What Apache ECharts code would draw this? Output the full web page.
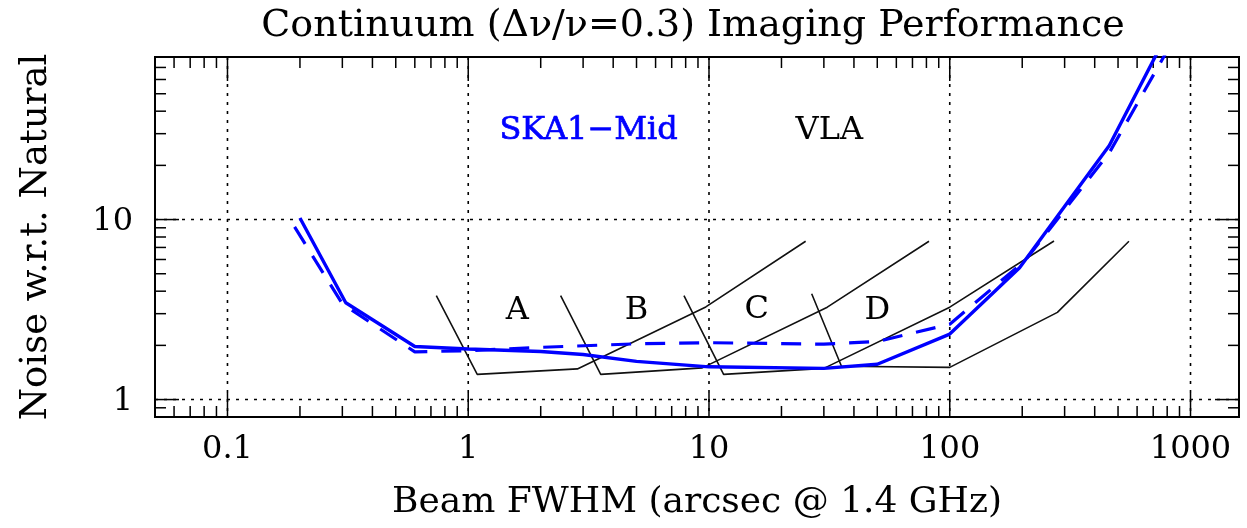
<!DOCTYPE html>
<html><head><meta charset="utf-8">
<script src="https://cdn.jsdelivr.net/npm/echarts@6/dist/echarts.min.js"></script>
<style>html,body{margin:0;padding:0;background:#fff}#chart{width:1247px;height:528px}</style>
</head><body><div id="chart"></div>
<script>
// ---------- texts ----------
const titleText = 'Continuum (Δν/ν=0.3) Imaging Performance';
const xAxisTitle = 'Beam FWHM (arcsec @ 1.4 GHz)';
const yAxisTitle = 'Noise w.r.t. Natural';

// ---------- axis ranges & ticks ----------
const xRange = [0.05, 1590];
const yRange = [0.8, 80];
const xMajorTicks = [0.1, 1, 10, 100, 1000];
const xTickLabels = ['0.1', '1', '10', '100', '1000'];
const xMinorTicks = [0.06, 0.07, 0.08, 0.09,
  0.2, 0.3, 0.4, 0.5, 0.6, 0.7, 0.8, 0.9,
  2, 3, 4, 5, 6, 7, 8, 9,
  20, 30, 40, 50, 60, 70, 80, 90,
  200, 300, 400, 500, 600, 700, 800, 900];
const yMajorTicks = [1, 10];
const yTickLabels = ['1', '10'];
const yMinorTicks = [0.9, 2, 3, 4, 5, 6, 7, 8, 9, 20, 30, 40, 50, 60, 70];

// ---------- SKA1-Mid ----------
const skaSolidX = [0.2, 0.31, 0.6, 1, 2, 3, 5, 10, 30, 50, 100, 195, 460, 800];
const skaSolidY = [10.2, 3.45, 1.97, 1.91, 1.85, 1.78, 1.63, 1.52, 1.49, 1.57, 2.31, 5.4, 25.8, 108];
const skaDashX = [0.19, 0.3, 0.6, 1, 2, 5, 10, 30, 50, 100, 205, 460, 850];
const skaDashY = [9.1, 3.4, 1.84, 1.87, 1.95, 2.04, 2.07, 2.03, 2.1, 2.62, 5.9, 23.5, 100];

// ---------- VLA configurations ----------
const vlaAX = [0.737, 1.09, 2.84, 9.7, 25.2];
const vlaAY = [3.78, 1.38, 1.48, 3.27, 7.58];
const vlaBX = [2.42, 3.55, 9.38, 31, 82];
const vlaBY = [3.78, 1.38, 1.50, 3.26, 7.58];
const vlaCX = [7.87, 11.5, 30, 100, 271];
const vlaCY = [3.78, 1.38, 1.49, 3.26, 7.6];
const vlaDX = [26.7, 35.5, 100, 280, 555];
const vlaDY = [3.87, 1.53, 1.51, 3.05, 7.58];

// ---------- annotation labels ----------
const annoText = ['A', 'B', 'C', 'D', 'SKA1−Mid', 'VLA'];
const annoX = [1.6, 5, 15.8, 50, 3.16, 31.6];
const annoY = [3.12, 3.12, 3.16, 3.12, 31.2, 31.2];

const FONT = '"DejaVu Serif", "Liberation Serif", serif';
const BLUE = '#0000ff';

function pairs(xs, ys) { return xs.map((x, i) => [x, ys[i]]); }

function xTickRender(major) {
  return function (params, api) {
    const cs = params.coordSys;
    const px = api.coord([api.value(0), 1])[0];
    const len = major ? 24 : 11;
    const top = cs.y, bot = cs.y + cs.height;
    const ch = [
      { type: 'line', shape: { x1: px, y1: bot, x2: px, y2: bot - len }, style: { stroke: '#000', lineWidth: 1.5 } },
      { type: 'line', shape: { x1: px, y1: top, x2: px, y2: top + len }, style: { stroke: '#000', lineWidth: 1.5 } }
    ];
    if (major) {
      ch.push({ type: 'line', shape: { x1: px, y1: top, x2: px, y2: bot }, style: { stroke: '#000', lineWidth: 1.6, lineDash: [3, 6] } });
      ch.push({ type: 'text', style: { text: xTickLabels[params.dataIndex], x: px, y: bot + 33, align: 'center', verticalAlign: 'middle', textAlign: 'center', textVerticalAlign: 'middle', fill: '#000', font: '32px ' + FONT } });
    }
    return { type: 'group', children: ch };
  };
}
function yTickRender(major) {
  return function (params, api) {
    const cs = params.coordSys;
    const py = api.coord([1, api.value(1)])[1];
    const len = major ? 24 : 11;
    const left = cs.x, right = cs.x + cs.width;
    const ch = [
      { type: 'line', shape: { x1: left, y1: py, x2: left + len, y2: py }, style: { stroke: '#000', lineWidth: 1.5 } },
      { type: 'line', shape: { x1: right, y1: py, x2: right - len, y2: py }, style: { stroke: '#000', lineWidth: 1.5 } }
    ];
    if (major) {
      ch.push({ type: 'line', shape: { x1: left, y1: py, x2: right, y2: py }, style: { stroke: '#000', lineWidth: 1.6, lineDash: [3, 6] } });
      ch.push({ type: 'text', style: { text: yTickLabels[params.dataIndex], x: left - 22, y: py + 2, align: 'right', verticalAlign: 'middle', textAlign: 'right', textVerticalAlign: 'middle', fill: '#000', font: '32px ' + FONT } });
    }
    return { type: 'group', children: ch };
  };
}

function vlaSeries(xs, ys) {
  return { type: 'line', data: pairs(xs, ys), symbol: 'none', clip: true, z: 3,
    lineStyle: { color: '#111', width: 1.6 }, silent: true };
}

const chart = echarts.init(document.getElementById('chart'), null, { renderer: 'canvas' });
chart.setOption({
  animation: false,
  backgroundColor: '#fff',
  title: {
    text: titleText, left: 688, textAlign: 'center', top: 2,
    textStyle: { fontFamily: FONT, fontSize: 38, fontWeight: 'normal', color: '#000' }
  },
  grid: { left: 155, right: 8, top: 57, bottom: 111, show: true, borderColor: '#000', borderWidth: 2, backgroundColor: 'transparent', containLabel: false },
  xAxis: {
    type: 'log', logBase: 10, min: xRange[0], max: xRange[1],
    axisLine: { show: false }, axisTick: { show: false }, axisLabel: { show: false }, splitLine: { show: false },
    name: xAxisTitle, nameLocation: 'middle', nameGap: 68,
    nameTextStyle: { fontFamily: FONT, fontSize: 36, color: '#000' }
  },
  yAxis: {
    type: 'log', logBase: 10, min: yRange[0], max: yRange[1],
    axisLine: { show: false }, axisTick: { show: false }, axisLabel: { show: false }, splitLine: { show: false },
    name: yAxisTitle, nameLocation: 'middle', nameGap: 100,
    nameTextStyle: { fontFamily: FONT, fontSize: 37, color: '#000' }
  },
  series: [
    { type: 'custom', z: 1, silent: true, data: xMajorTicks.map(v => [v, 1]), encode: { x: 0, y: 1 }, renderItem: xTickRender(true) },
    { type: 'custom', z: 1, silent: true, data: xMinorTicks.map(v => [v, 1]), encode: { x: 0, y: 1 }, renderItem: xTickRender(false) },
    { type: 'custom', z: 1, silent: true, data: yMajorTicks.map(v => [1, v]), encode: { x: 0, y: 1 }, renderItem: yTickRender(true) },
    { type: 'custom', z: 1, silent: true, data: yMinorTicks.map(v => [1, v]), encode: { x: 0, y: 1 }, renderItem: yTickRender(false) },
    vlaSeries(vlaAX, vlaAY),
    vlaSeries(vlaBX, vlaBY),
    vlaSeries(vlaCX, vlaCY),
    vlaSeries(vlaDX, vlaDY),
    { type: 'line', data: pairs(skaDashX, skaDashY), symbol: 'none', clip: true, z: 4,
      lineStyle: { color: BLUE, width: 3.2, type: [20, 14] } },
    { type: 'line', data: pairs(skaSolidX, skaSolidY), symbol: 'none', clip: true, z: 5,
      lineStyle: { color: BLUE, width: 3.4 } },
    { type: 'scatter', z: 6, silent: true, symbolSize: 0,
      itemStyle: { opacity: 1 },
      data: annoText.map((t, i) => ({ value: [annoX[i], annoY[i]], name: t,
        label: t.indexOf('SKA') === 0 ? { color: BLUE, textBorderColor: BLUE, textBorderWidth: 0.7 } : { color: '#000' } })),
      label: { show: true, position: 'inside', formatter: p => p.name, opacity: 1,
        fontFamily: FONT, fontSize: 32, color: '#000' }
    }
  ]
});
</script></body></html>
